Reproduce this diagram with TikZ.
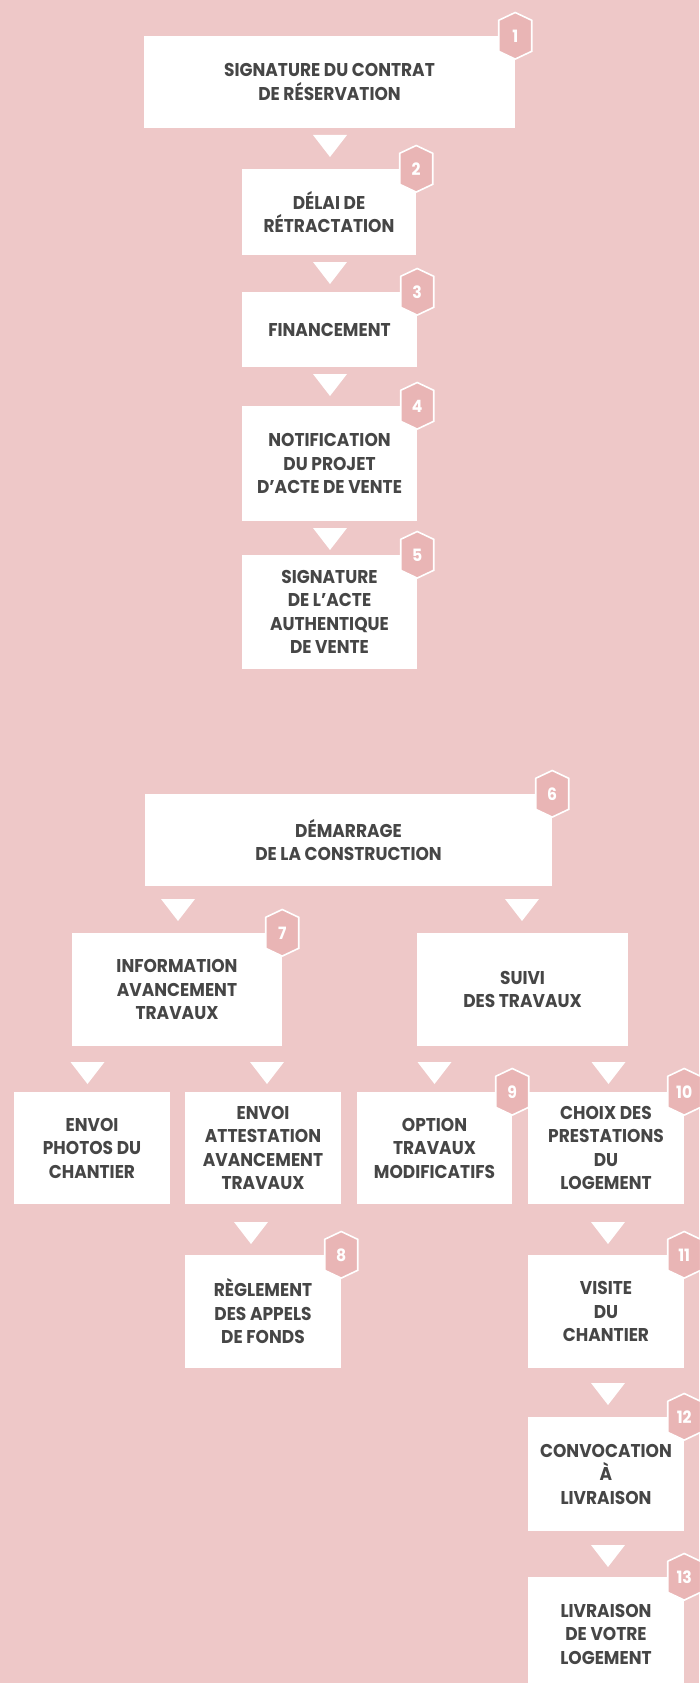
\documentclass[tikz,border=0pt]{standalone}
\usepackage{fontspec}
\setmainfont{Poppins}[FakeStretch=0.92]
\definecolor{bgpink}{RGB}{238,200,200}
\definecolor{hexpink}{RGB}{233,181,181}
\definecolor{txtgray}{RGB}{70,70,70}
\newcommand\bx[6]{\node[boxnode, minimum width={#4-#2}, minimum height={#5-#3}] (#1) at ({(#2+#4)/2},{(#3+#5)/2}) {#6};}
\newcommand\tri[2]{\fill[white] ({#1-17},#2) -- ({#1+17},#2) -- (#1,{#2+22}) -- cycle;}
\newcommand\hexb[2]{\begin{scope}[shift={(#1.north east)}]
 \filldraw[hexstyle] (0,-23.3) -- (16.5,-15.5) -- (16.5,15.5) -- (0,23.3) -- (-16.5,15.5) -- (-16.5,-15.5) -- cycle;
 \node[numstyle] (#1n) at (0,0.5) {#2};
\end{scope}}
\begin{document}
\begin{tikzpicture}[x=1pt,y=-1pt,
  boxnode/.style={fill=white, inner sep=0pt, align=center, text=txtgray,
    font=\fontsize{18.5}{23.5}\selectfont\bfseries},
  hexstyle/.style={fill=hexpink, draw=white, line width=1.6pt, line join=miter},
  numstyle/.style={text=white, inner sep=0pt, font=\fontsize{17}{17}\selectfont\bfseries}]
\fill[bgpink] (0,0) rectangle (699,1683);
\useasboundingbox (0,0) rectangle (699,1683);
\bx{b1}{144}{36}{515}{128}{SIGNATURE DU CONTRAT\\DE RÉSERVATION}
\bx{b2}{242}{169}{416}{255}{DÉLAI DE\\RÉTRACTATION}
\bx{b3}{242}{292}{417}{367}{FINANCEMENT}
\bx{b4}{242}{406}{417}{521}{NOTIFICATION\\DU PROJET\\D’ACTE DE VENTE}
\bx{b5}{242}{555}{417}{669}{SIGNATURE\\DE L’ACTE\\AUTHENTIQUE\\DE VENTE}
\bx{b6}{145}{794}{552}{886}{DÉMARRAGE\\DE LA CONSTRUCTION}
\bx{b7}{72}{933}{282}{1046}{INFORMATION\\AVANCEMENT\\TRAVAUX}
\bx{bs}{417}{933}{628}{1046}{SUIVI\\DES TRAVAUX}
\bx{bp}{14}{1092}{170}{1204}{ENVOI\\PHOTOS DU\\CHANTIER}
\bx{ba}{185}{1092}{341}{1204}{ENVOI\\ATTESTATION\\AVANCEMENT\\TRAVAUX}
\bx{b9}{357}{1092}{512}{1204}{OPTION\\TRAVAUX\\MODIFICATIFS}
\bx{b10}{528}{1092}{684}{1204}{CHOIX DES\\PRESTATIONS\\DU\\LOGEMENT}
\bx{b8}{185}{1255}{341}{1368}{RÈGLEMENT\\DES APPELS\\DE FONDS}
\bx{b11}{528}{1255}{684}{1368}{VISITE\\DU\\CHANTIER}
\bx{b12}{528}{1417}{684}{1531}{CONVOCATION\\À\\LIVRAISON}
\bx{b13}{528}{1577}{684}{1691}{LIVRAISON\\DE VOTRE\\LOGEMENT}
\tri{330}{135}
\tri{330}{262}
\tri{330}{374}
\tri{330}{528}
\tri{178}{899}
\tri{522}{899}
\tri{87.5}{1062}
\tri{267}{1062}
\tri{434.5}{1062}
\tri{608.5}{1062}
\tri{251}{1222}
\tri{608}{1222}
\tri{608}{1383}
\tri{608}{1545}
\hexb{b1}{1}
\hexb{b2}{2}
\hexb{b3}{3}
\hexb{b4}{4}
\hexb{b5}{5}
\hexb{b6}{6}
\hexb{b7}{7}
\hexb{b8}{8}
\hexb{b9}{9}
\hexb{b10}{10}
\hexb{b11}{11}
\hexb{b12}{12}
\hexb{b13}{13}
\end{tikzpicture}
\end{document}
